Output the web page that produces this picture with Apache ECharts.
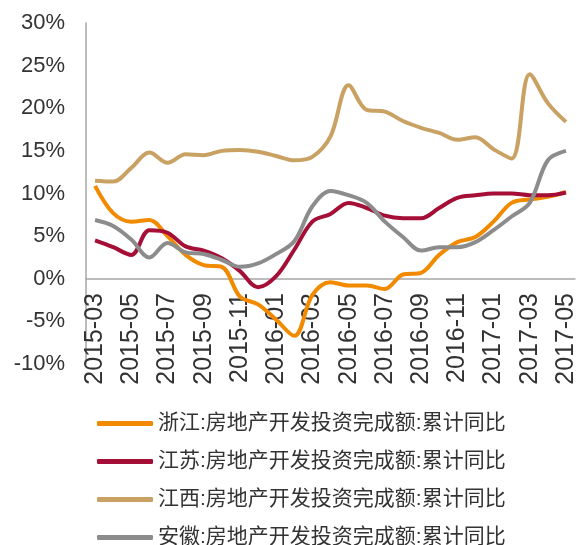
<!DOCTYPE html>
<html>
<head>
<meta charset="utf-8">
<script src="https://cdn.jsdelivr.net/npm/echarts@6/dist/echarts.min.js"></script>
<style>
  html, body { margin: 0; padding: 0; background: #fff; }
  #chart { width: 580px; height: 545px; }
</style>
</head>
<body>
<div id="chart"></div>
<script>
// 月份 2015-03 ~ 2017-05
const months = [
  '2015-03','2015-04','2015-05','2015-06','2015-07','2015-08','2015-09','2015-10','2015-11','2015-12',
  '2016-01','2016-02','2016-03','2016-04','2016-05','2016-06','2016-07','2016-08','2016-09','2016-10',
  '2016-11','2016-12','2017-01','2017-02','2017-03','2017-04','2017-05'
];

const zhejiang = [10.9, 7.7, 6.7, 6.9, 5.0, 2.8, 1.6, 1.4, -2.1, -3.0, -4.8, -6.7, -1.9, -0.4, -0.8, -0.8, -1.2, 0.5, 0.7, 2.8, 4.3, 4.9, 6.7, 8.9, 9.3, 9.6, 10.2];
const jiangsu = [4.5, 3.7, 2.8, 5.7, 5.4, 3.8, 3.3, 2.4, 0.9, -1.0, 0.3, 3.4, 6.7, 7.6, 8.9, 8.3, 7.4, 7.1, 7.1, 8.3, 9.5, 9.8, 10.0, 10.0, 9.8, 9.8, 10.1];
const jiangxi = [11.5, 11.4, 13.0, 14.8, 13.6, 14.6, 14.5, 15.0, 15.1, 14.9, 14.4, 13.9, 14.3, 16.7, 22.7, 19.8, 19.6, 18.5, 17.7, 17.1, 16.3, 16.6, 15.2, 14.1, 24.0, 20.6, 18.4];
const anhui = [6.9, 6.2, 4.6, 2.5, 4.2, 3.1, 2.9, 2.2, 1.4, 1.8, 2.9, 4.4, 8.5, 10.3, 9.8, 8.9, 6.7, 4.9, 3.3, 3.7, 3.7, 4.3, 5.7, 7.3, 8.9, 13.9, 15.0];

const names = [
  '浙江:房地产开发投资完成额:累计同比',
  '江苏:房地产开发投资完成额:累计同比',
  '江西:房地产开发投资完成额:累计同比',
  '安徽:房地产开发投资完成额:累计同比'
];
const colors = ['#F28A00', '#A50F37', '#C9A263', '#8C8C8C'];
const values = [zhejiang, jiangsu, jiangxi, anhui];

const font = '"Liberation Sans", "Noto Sans CJK SC", sans-serif';

const chart = echarts.init(document.getElementById('chart'));

chart.setOption({
  animation: false,
  color: colors,
  textStyle: { fontFamily: font },
  grid: { left: 86, right: 5, top: 23, bottom: 181, containLabel: false },
  legend: {
    orient: 'vertical',
    left: 92,
    top: 408,
    height: 200,
    icon: 'roundRect',
    itemWidth: 56,
    itemHeight: 5,
    itemGap: 17,
    textStyle: { fontSize: 21, color: '#333', fontFamily: font },
    data: names
  },
  xAxis: {
    type: 'category',
    data: months,
    boundaryGap: true,
    // 横轴放在 0% 处
    offset: -85,
    axisLine: { onZero: false, lineStyle: { color: '#A6A6A6', width: 1.5 } },
    axisTick: { show: false },
    axisLabel: {
      rotate: 90,
      interval: 1,
      margin: 14,
      fontSize: 25,
      color: '#333',
      fontFamily: font
    },
    splitLine: { show: false }
  },
  yAxis: {
    type: 'value',
    min: -10,
    max: 30,
    interval: 5,
    axisLine: { show: true, lineStyle: { color: '#A6A6A6', width: 1.5 } },
    axisTick: { show: false },
    axisLabel: {
      formatter: '{value}%',
      margin: 21,
      fontSize: 22,
      color: '#333',
      fontFamily: font
    },
    splitLine: { show: false }
  },
  series: names.map((n, i) => ({
    name: n,
    type: 'line',
    data: values[i],
    smooth: 0.35,
    symbol: 'none',
    lineStyle: { width: 4, color: colors[i] },
    itemStyle: { color: colors[i] }
  }))
});
</script>
</body>
</html>
